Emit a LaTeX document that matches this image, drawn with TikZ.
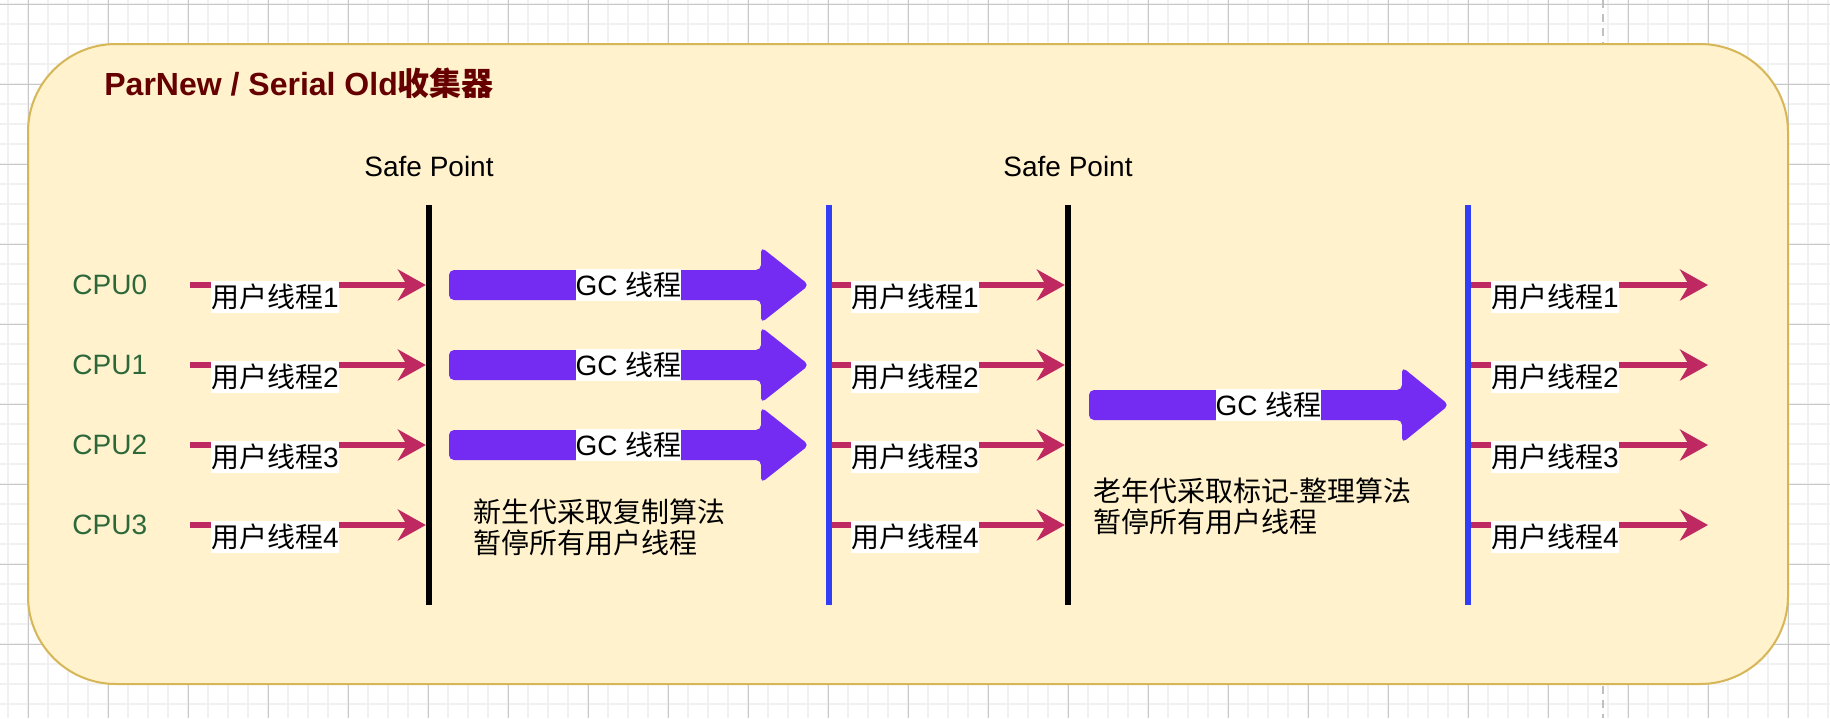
\documentclass[tikz,border=0pt]{standalone}
\usepackage{fontspec}
\setmainfont{Liberation Sans}
\newfontfamily\cjk{Noto Sans CJK SC}
\usetikzlibrary{arrows.meta}
\definecolor{gminor}{RGB}{241,241,241}
\definecolor{gmajor}{RGB}{200,200,200}
\definecolor{pagebr}{RGB}{192,192,192}
\definecolor{framec}{RGB}{214,182,86}
\definecolor{framefill}{RGB}{255,242,204}
\definecolor{titlec}{RGB}{102,0,0}
\definecolor{cpuc}{RGB}{44,104,58}
\definecolor{thrc}{RGB}{189,41,96}
\definecolor{gcc}{RGB}{116,44,242}
\definecolor{blc}{RGB}{48,62,245}
\newcommand\myfs{\fontsize{14pt}{15.5pt}\selectfont}
\begin{document}
\begin{tikzpicture}[x=0.5pt,y=-0.5pt,
  gridminor/.style={draw=gminor, line width=1pt},
  gridmajor/.style={draw=gmajor, line width=0.5pt},
  pagebreak/.style={draw=pagebr, line width=1pt, dash pattern=on 4pt off 3pt},
  frame/.style={draw=framec, fill=framefill, line width=1pt, rounded corners=44pt},
  title/.style={font=\bfseries\fontsize{16pt}{18pt}\selectfont, text=titlec, inner sep=0pt},
  txt/.style={font=\myfs, inner sep=0pt},
  cpu/.style={font=\myfs, text=cpuc, inner sep=0pt},
  lbl/.style={font=\myfs, fill=white, inner xsep=0pt, inner ysep=0pt, minimum height=16pt},
  thr/.style={draw=thrc, line width=2.75pt, -{Stealth[length=14pt,width=15.5pt,inset=4.5pt]}},
  vline/.style={minimum width=2.75pt, minimum height=200pt, inner sep=0pt, draw=none},
  gcfill/.style={fill=gcc, rounded corners=2.5pt},
]
\useasboundingbox (0,0) rectangle (1830,718);
\fill[white] (0,0) rectangle (1830,718);
\foreach \x in {8,28,...,1828} \draw[gridminor] (\x,0) -- (\x,718);
\foreach \y in {4,24,...,714} \draw[gridminor] (0,\y) -- (1830,\y);
\foreach \x in {28,108,...,1828} \draw[gridmajor] (\x,0) -- (\x,718);
\foreach \y in {4,84,...,714} \draw[gridmajor] (0,\y) -- (1830,\y);
\draw[pagebreak] (1603,0) -- (1603,718);
\draw[frame] (28,44) rectangle (1788,684);

\node[title, anchor=west] (title) at (104,83) {ParNew / Serial Old{\cjk 收集器}};

\node[txt] (splab1) at (429,166) {Safe Point};
\node[txt] (splab2) at (1068,166) {Safe Point};

\node[vline, fill=black] (sp1) at (429,405) {};
\node[vline, fill=blc] (bl1) at (829,405) {};
\node[vline, fill=black] (sp2) at (1068,405) {};
\node[vline, fill=blc] (bl2) at (1468,405) {};

\foreach \r/\y in {0/285,1/365,2/445,3/525} {
  \pgfmathtruncatemacro\n{\r+1}
  \node[cpu, anchor=west] (cpu\r) at (72,\y) {CPU\r};
  \coordinate (a\r) at (190,\y);
  \draw[thr] (a\r) -- (a\r -| sp1.west);
  \node[lbl] (la\r) at (275,{\y+11.5}) {{\cjk 用户线程}\n};
  \draw[thr] (bl1.east |- a\r) -- (sp2.west |- a\r);
  \node[lbl] (lb\r) at (915,{\y+11.5}) {{\cjk 用户线程}\n};
  \coordinate (c\r) at (1708,\y);
  \draw[thr] (bl2.east |- a\r) -- (c\r);
  \node[lbl] (lc\r) at (1555,{\y+11.5}) {{\cjk 用户线程}\n};
}

\foreach \c/\i in {285/1,365/2,445/3} {
  \fill[gcfill] (449,{\c-15}) -- (761,{\c-15}) -- (761,{\c-38}) -- (809,\c) -- (761,{\c+38}) -- (761,{\c+15}) -- (449,{\c+15}) -- cycle;
  \node[lbl] (gc\i) at (628.5,\c) {GC {\cjk 线程}};
}
\fill[gcfill] (1089,390) -- (1402,390) -- (1402,367) -- (1449,405) -- (1402,443) -- (1402,420) -- (1089,420) -- cycle;
\node[lbl] (gc4) at (1268.5,405) {GC {\cjk 线程}};

\node[txt, anchor=west, align=left] (young) at (473,527.5) {{\cjk 新生代采取复制算法}\\{\cjk 暂停所有用户线程}};
\node[txt, anchor=west, align=left] (old) at (1093,506.5) {{\cjk 老年代采取标记-整理算法}\\{\cjk 暂停所有用户线程}};
\end{tikzpicture}
\end{document}
